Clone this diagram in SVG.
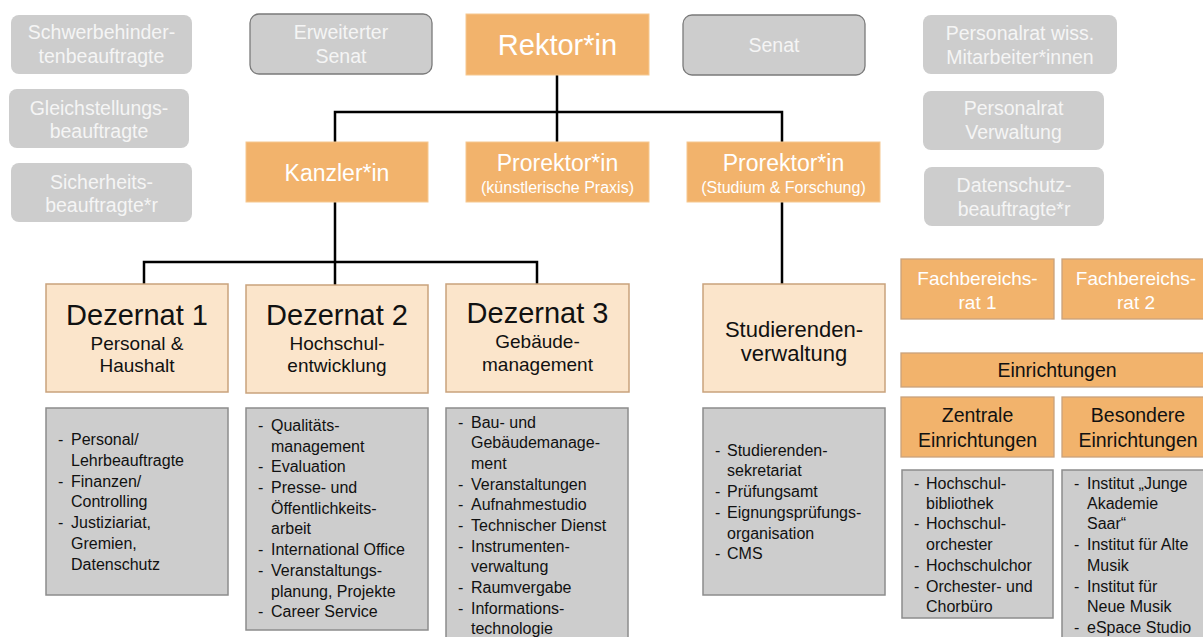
<svg xmlns="http://www.w3.org/2000/svg" width="1203" height="637" viewBox="0 0 1203 637">
<style>
text{font-family:"Liberation Sans",Arial,sans-serif;text-anchor:middle}
.gb{fill:#cdcdcd}
.gbs{fill:#cdcdcd;stroke:#7a7a7a;stroke-width:1.3}
.gt{fill:#f5f5f5;font-size:19.5px}
.or{fill:#f2b36c;stroke:#f6c890;stroke-width:1}
.or2{fill:#f2b36c;stroke:#c9a27c;stroke-width:1.3}
.wt{fill:#ffffff}
.pe{fill:#fbe5cb;stroke:#c9a27c;stroke-width:1.5}
.bk{fill:#111111}
.ls{fill:#cdcdcd;stroke:#8c8c8c;stroke-width:1.5}
.li{fill:#111111;font-size:16px;text-anchor:start}
.con{fill:none;stroke:#000000;stroke-width:2.5}
</style>
<g id="connectors">
<path class="con" d="M557,75 V142 M335,142 V112 H782 V142 M782,202 V285 M335,202 V262 M144,285 V262 H537 V285 M335,262 V285"/>
</g>
<g id="schwerbehinderten"><rect class="gb" x="11" y="15" width="181" height="59" rx="8"/><text class="gt" x="101.5" y="39">Schwerbehinder-</text><text class="gt" x="101.5" y="63">tenbeauftragte</text></g>
<g id="gleichstellung"><rect class="gb" x="9" y="89" width="180" height="59" rx="8"/><text class="gt" x="99" y="115">Gleichstellungs-</text><text class="gt" x="99" y="138">beauftragte</text></g>
<g id="sicherheit"><rect class="gb" x="11" y="163" width="181" height="59" rx="8"/><text class="gt" x="101.5" y="189">Sicherheits-</text><text class="gt" x="101.5" y="212">beauftragte*r</text></g>
<g id="erweiterter-senat"><rect class="gbs" x="250" y="14" width="182" height="60" rx="9"/><text class="gt" x="341" y="39">Erweiterter</text><text class="gt" x="341" y="63">Senat</text></g>
<g id="senat"><rect class="gbs" x="683" y="15" width="182" height="60" rx="9"/><text class="gt" x="774" y="52">Senat</text></g>
<g id="personalrat-wiss"><rect class="gb" x="923" y="15" width="194" height="59" rx="8"/><text class="gt" x="1020" y="40">Personalrat wiss.</text><text class="gt" x="1020" y="64">Mitarbeiter*innen</text></g>
<g id="personalrat-verw"><rect class="gb" x="923" y="91" width="181" height="59" rx="8"/><text class="gt" x="1013.5" y="115">Personalrat</text><text class="gt" x="1013.5" y="139">Verwaltung</text></g>
<g id="datenschutz"><rect class="gb" x="924" y="167" width="180" height="59" rx="8"/><text class="gt" x="1014" y="192">Datenschutz-</text><text class="gt" x="1014" y="216">beauftragte*r</text></g>
<g id="rektor"><rect class="or" x="466" y="14" width="183" height="61"/><text class="wt" x="557.5" y="55" font-size="29">Rektor*in</text></g>
<g id="kanzler"><rect class="or" x="246" y="142" width="182" height="60"/><text class="wt" x="337" y="181" font-size="23">Kanzler*in</text></g>
<g id="prorektor-kp"><rect class="or" x="466" y="142" width="183" height="60"/><text class="wt" x="557.5" y="171" font-size="23">Prorektor*in</text><text class="wt" x="557.5" y="193" font-size="16">(künstlerische Praxis)</text></g>
<g id="prorektor-sf"><rect class="or" x="687" y="142" width="193" height="60"/><text class="wt" x="783.5" y="171" font-size="23">Prorektor*in</text><text class="wt" x="783.5" y="193" font-size="16">(Studium &amp; Forschung)</text></g>
<g id="dezernat1"><rect class="pe" x="46" y="284" width="182" height="108"/><text class="bk" x="137" y="325" font-size="29">Dezernat 1</text><text class="bk" x="137" y="350" font-size="19">Personal &amp;</text><text class="bk" x="137" y="372" font-size="19">Haushalt</text></g>
<g id="dezernat2"><rect class="pe" x="246" y="285" width="182" height="108"/><text class="bk" x="337" y="325" font-size="29">Dezernat 2</text><text class="bk" x="337" y="350" font-size="19">Hochschul-</text><text class="bk" x="337" y="372" font-size="19">entwicklung</text></g>
<g id="dezernat3"><rect class="pe" x="446" y="284" width="183" height="108"/><text class="bk" x="537.5" y="323" font-size="29">Dezernat 3</text><text class="bk" x="537.5" y="348" font-size="19">Gebäude-</text><text class="bk" x="537.5" y="371" font-size="19">management</text></g>
<g id="studierendenverwaltung"><rect class="pe" x="703" y="284" width="182" height="108"/><text class="bk" x="794" y="337" font-size="22">Studierenden-</text><text class="bk" x="794" y="361" font-size="22">verwaltung</text></g>
<g id="fachbereichsrat1"><rect class="or2" x="901" y="259" width="153" height="60"/><text class="wt" x="977.5" y="285" font-size="19">Fachbereichs-</text><text class="wt" x="977.5" y="309" font-size="19">rat 1</text></g>
<g id="fachbereichsrat2"><rect class="or2" x="1062" y="259" width="153" height="60"/><text class="wt" x="1136" y="285" font-size="19">Fachbereichs-</text><text class="wt" x="1136" y="309" font-size="19">rat 2</text></g>
<g id="einrichtungen"><rect class="or2" x="901" y="353" width="313" height="34"/><text class="bk" x="1057" y="377" font-size="19.5">Einrichtungen</text></g>
<g id="zentrale"><rect class="or2" x="901" y="397" width="153" height="60"/><text class="bk" x="977.5" y="422" font-size="19.5">Zentrale</text><text class="bk" x="977.5" y="447" font-size="19.5">Einrichtungen</text></g>
<g id="besondere"><rect class="or2" x="1062" y="397" width="153" height="60"/><text class="bk" x="1138" y="422" font-size="19.5">Besondere</text><text class="bk" x="1138" y="447" font-size="19.5">Einrichtungen</text></g>
<g id="liste-d1"><rect class="ls" x="46" y="408" width="182" height="187"/>
<text class="li" x="58" y="445">-</text><text class="li" x="71" y="445">Personal/</text><text class="li" x="71" y="466">Lehrbeauftragte</text>
<text class="li" x="58" y="487">-</text><text class="li" x="71" y="487">Finanzen/</text><text class="li" x="71" y="507">Controlling</text>
<text class="li" x="58" y="528">-</text><text class="li" x="71" y="528">Justiziariat,</text><text class="li" x="71" y="549">Gremien,</text><text class="li" x="71" y="570">Datenschutz</text></g>
<g id="liste-d2"><rect class="ls" x="246" y="408" width="182" height="222"/>
<text class="li" x="258" y="431">-</text><text class="li" x="271" y="431">Qualitäts-</text><text class="li" x="271" y="452">management</text>
<text class="li" x="258" y="472">-</text><text class="li" x="271" y="472">Evaluation</text>
<text class="li" x="258" y="493">-</text><text class="li" x="271" y="493">Presse- und</text><text class="li" x="271" y="514">Öffentlichkeits-</text><text class="li" x="271" y="534">arbeit</text>
<text class="li" x="258" y="555">-</text><text class="li" x="271" y="555">International Office</text>
<text class="li" x="258" y="576">-</text><text class="li" x="271" y="576">Veranstaltungs-</text><text class="li" x="271" y="597">planung, Projekte</text>
<text class="li" x="258" y="617">-</text><text class="li" x="271" y="617">Career Service</text></g>
<g id="liste-d3"><rect class="ls" x="446" y="408" width="182" height="240"/>
<text class="li" x="458" y="428">-</text><text class="li" x="471" y="428">Bau- und</text><text class="li" x="471" y="448">Gebäudemanage-</text><text class="li" x="471" y="469">ment</text>
<text class="li" x="458" y="490">-</text><text class="li" x="471" y="490">Veranstaltungen</text>
<text class="li" x="458" y="510">-</text><text class="li" x="471" y="510">Aufnahmestudio</text>
<text class="li" x="458" y="531">-</text><text class="li" x="471" y="531">Technischer Dienst</text>
<text class="li" x="458" y="552">-</text><text class="li" x="471" y="552">Instrumenten-</text><text class="li" x="471" y="572">verwaltung</text>
<text class="li" x="458" y="593">-</text><text class="li" x="471" y="593">Raumvergabe</text>
<text class="li" x="458" y="614">-</text><text class="li" x="471" y="614">Informations-</text><text class="li" x="471" y="634">technologie</text></g>
<g id="liste-sv"><rect class="ls" x="703" y="408" width="182" height="187"/>
<text class="li" x="715" y="456">-</text><text class="li" x="727" y="456">Studierenden-</text><text class="li" x="727" y="476">sekretariat</text>
<text class="li" x="715" y="497">-</text><text class="li" x="727" y="497">Prüfungsamt</text>
<text class="li" x="715" y="518">-</text><text class="li" x="727" y="518">Eignungsprüfungs-</text><text class="li" x="727" y="539">organisation</text>
<text class="li" x="715" y="559">-</text><text class="li" x="727" y="559">CMS</text></g>
<g id="liste-zentral"><rect class="ls" x="902" y="470" width="151" height="148"/>
<text class="li" x="914" y="489">-</text><text class="li" x="926" y="489">Hochschul-</text><text class="li" x="926" y="509">bibliothek</text>
<text class="li" x="914" y="529">-</text><text class="li" x="926" y="529">Hochschul-</text><text class="li" x="926" y="550">orchester</text>
<text class="li" x="914" y="571">-</text><text class="li" x="926" y="571">Hochschulchor</text>
<text class="li" x="914" y="592">-</text><text class="li" x="926" y="592">Orchester- und</text><text class="li" x="926" y="612">Chorbüro</text></g>
<g id="liste-besonders"><rect class="ls" x="1062" y="470" width="153" height="180"/>
<text class="li" x="1074" y="489">-</text><text class="li" x="1087" y="489">Institut „Junge</text><text class="li" x="1087" y="509">Akademie</text><text class="li" x="1087" y="529">Saar“</text>
<text class="li" x="1074" y="550">-</text><text class="li" x="1087" y="550">Institut für Alte</text><text class="li" x="1087" y="571">Musik</text>
<text class="li" x="1074" y="592">-</text><text class="li" x="1087" y="592">Institut für</text><text class="li" x="1087" y="612">Neue Musik</text>
<text class="li" x="1074" y="633">-</text><text class="li" x="1087" y="633">eSpace Studio</text></g>
</svg>
